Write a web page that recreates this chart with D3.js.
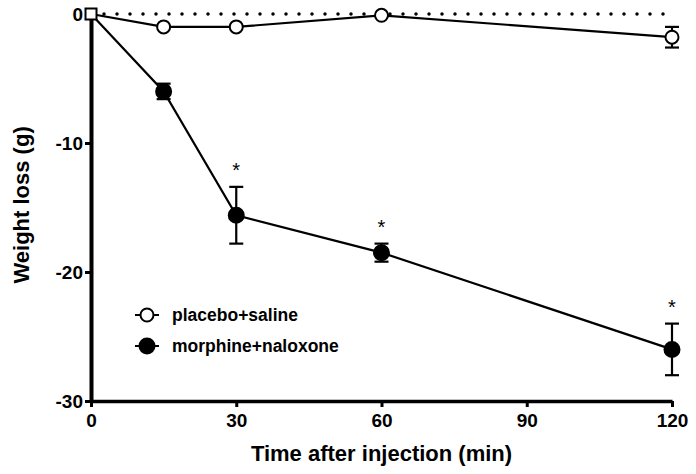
<!DOCTYPE html>
<html>
<head>
<meta charset="utf-8">
<script src="https://cdn.jsdelivr.net/npm/d3@7"></script>
<style>
  body { margin: 0; background: white; }
  text { font-family: "Liberation Sans", Arial, sans-serif; }
</style>
</head>
<body>
<div id="outer"></div>
<script>
// DATA //
const times = [0, 15, 30, 60, 120];
const placeboMean = [0, -1.0, -1.0, -0.1, -1.8];
const placeboErr = [0, 0, 0, 0, 0.8];
const morphineMean = [0, -6.0, -15.6, -18.5, -26.0];
const morphineErr = [0, 0.6, 2.2, 0.7, 2.0];
const signif = [false, false, true, true, true];
const xTicks = [0, 30, 60, 90, 120];
const yTicks = [0, -10, -20, -30];

// SIZING //
const width = 696, height = 474;
const margin = {top: 14, left: 91, right: 24, bottom: 73};

const svg = d3.select('#outer').append('svg')
	.attr('width', width)
	.attr('height', height);

const x = d3.scaleLinear().domain([0, 120]).range([margin.left, width - margin.right]);
const y = d3.scaleLinear().domain([-30, 0]).range([height - margin.bottom, margin.top]);

// ZERO REFERENCE (dotted) //
svg.append('line')
	.attr('x1', x(0) + 13).attr('x2', x(120))
	.attr('y1', y(0)).attr('y2', y(0))
	.attr('stroke', 'black')
	.attr('stroke-width', 3.5)
	.attr('stroke-linecap', 'round')
	.attr('stroke-dasharray', '0 13');

// AXES //
const fmt = d => String(d);   // plain hyphen, like the original

const xAxis = svg.append('g')
	.attr('transform', `translate(0,${y(-30)})`)
	.call(d3.axisBottom(x).tickValues(xTicks).tickFormat(fmt).tickSize(6).tickSizeOuter(0));
xAxis.select('.domain').attr('stroke-width', 3.5);
xAxis.selectAll('.tick line').attr('stroke-width', 3);
xAxis.selectAll('.tick text')
	.attr('dy', '0.71em').attr('y', 13)
	.style('font-size', '19px').style('font-weight', 'bold');

const yAxis = svg.append('g')
	.attr('transform', `translate(${x(0)},0)`)
	.call(d3.axisLeft(y).tickValues(yTicks).tickFormat(fmt).tickSize(6).tickSizeOuter(0));
yAxis.select('.domain').attr('stroke-width', 4);
yAxis.selectAll('.tick line').attr('stroke-width', 3);
yAxis.selectAll('.tick text')
	.attr('x', -8)
	.style('font-size', '19px').style('font-weight', 'bold');

// AXIS TITLES //
svg.append('text')
	.attr('x', x(60)).attr('y', 461)
	.attr('text-anchor', 'middle')
	.style('font-size', '22px').style('font-weight', 'bold')
	.text('Time after injection (min)');

svg.append('text')
	.attr('transform', `translate(29,${y(-14.8)}) rotate(-90)`)
	.attr('text-anchor', 'middle')
	.style('font-size', '22px').style('font-weight', 'bold')
	.text('Weight loss (g)');

// SERIES //
const line = d3.line().x(d => x(d[0])).y(d => y(d[1]));

function drawSeries(means, errs, filled) {
	const pts = times.map((t, i) => [t, means[i], errs[i]]);
	svg.append('path')
		.datum(pts)
		.attr('d', line)
		.attr('fill', 'none')
		.attr('stroke', 'black')
		.attr('stroke-width', 2.2);

	const g = svg.append('g');
	pts.filter(d => d[2] > 0).forEach(d => {
		const cx = x(d[0]);
		g.append('line')
			.attr('x1', cx).attr('x2', cx)
			.attr('y1', y(d[1] - d[2])).attr('y2', y(d[1] + d[2]))
			.attr('stroke', 'black').attr('stroke-width', 2.2);
		[d[1] - d[2], d[1] + d[2]].forEach(v => {
			g.append('line')
				.attr('x1', cx - 7).attr('x2', cx + 7)
				.attr('y1', y(v)).attr('y2', y(v))
				.attr('stroke', 'black').attr('stroke-width', 2.2);
		});
	});

	g.selectAll('circle.pt')
		.data(pts.filter(d => d[0] > 0))
		.join('circle')
		.attr('class', 'pt')
		.attr('cx', d => x(d[0]))
		.attr('cy', d => y(d[1]))
		.attr('r', filled ? 7.5 : 6.5)
		.attr('fill', filled ? 'black' : 'white')
		.attr('stroke', 'black')
		.attr('stroke-width', 2);
}

drawSeries(placeboMean, placeboErr, false);
drawSeries(morphineMean, morphineErr, true);

// shared start point drawn as open square
svg.append('rect')
	.attr('x', x(0) - 5.5).attr('y', y(0) - 5.5)
	.attr('width', 11).attr('height', 11)
	.attr('fill', 'white')
	.attr('stroke', 'black')
	.attr('stroke-width', 2);

// SIGNIFICANCE STARS //
svg.selectAll('text.star')
	.data(times.map((t, i) => ({t, m: morphineMean[i], e: morphineErr[i], s: signif[i]})).filter(d => d.s))
	.join('text')
	.attr('class', 'star')
	.attr('x', d => x(d.t))
	.attr('y', d => y(d.m + d.e) - 10)
	.attr('text-anchor', 'middle')
	.style('font-size', '20px')
	.text('*');

// LEGEND //
const legendItems = [
	{label: 'placebo+saline', filled: false},
	{label: 'morphine+naloxone', filled: true}
];
const legend = svg.append('g').attr('transform', 'translate(135,315)');
legendItems.forEach((item, i) => {
	const row = legend.append('g').attr('transform', `translate(0,${i * 31})`);
	row.append('line')
		.attr('x1', 0).attr('x2', 24)
		.attr('stroke', 'black').attr('stroke-width', 2);
	row.append('circle')
		.attr('cx', 12).attr('r', item.filled ? 7.5 : 6.5)
		.attr('fill', item.filled ? 'black' : 'white')
		.attr('stroke', 'black').attr('stroke-width', 2);
	row.append('text')
		.attr('x', 37).attr('dy', '0.35em')
		.style('font-size', '17.5px').style('font-weight', 'bold')
		.text(item.label);
});
</script>
</body>
</html>
